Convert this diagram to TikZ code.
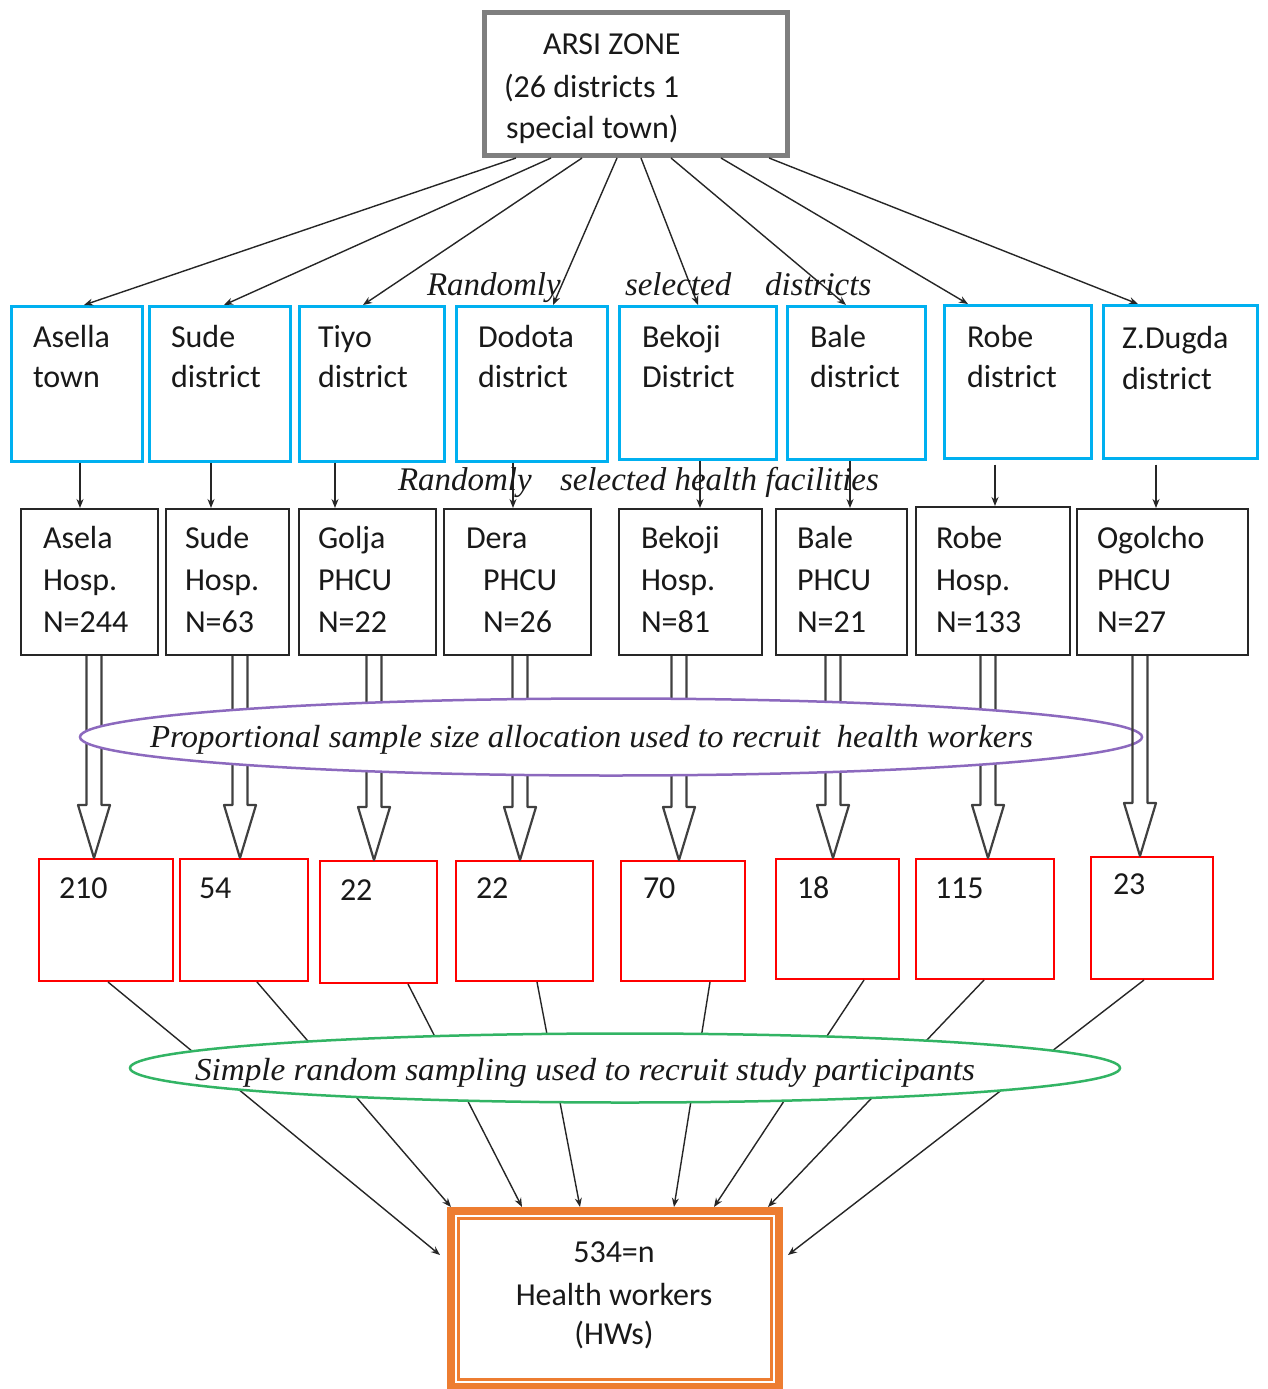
\documentclass[tikz,border=0pt]{standalone}
\usepackage{fontspec}
\usepackage{graphicx}
\setmainfont{Carlito}
\newfontfamily\lserif{Liberation Serif}
\usetikzlibrary{arrows.meta,shapes.geometric,calc}
\definecolor{cblue}{HTML}{00B0F0}
\definecolor{cred}{HTML}{FF0000}
\definecolor{cgray}{HTML}{7F7F7F}
\definecolor{cpurple}{RGB}{140,105,190}
\definecolor{cgreen}{RGB}{50,180,100}
\definecolor{corange}{HTML}{ED7D31}
\newcommand\calfont{\fontsize{32}{40}\selectfont}
\newcommand\itfont{\lserif\itshape\fontsize{33}{40}\selectfont}
\newcommand\tl[4]{\node[lab] (#1) at (#2,#3) {#4};}
\newcommand\il[4]{\node[ilab] (#1) at (#2,#3) {#4};}
\newcommand\holarrow[3]{%
  \coordinate (#1a) at (#1.south -| #2,0);
  \coordinate (#1b) at (#3.north -| #2,0);
  \draw[holl] ($(#1a)+(-7.5,0)$) -- ($(#1b)+(-7.5,-53)$) -- ($(#1b)+(-16,-53)$) -- (#1b)
     -- ($(#1b)+(16,-53)$) -- ($(#1b)+(7.5,-53)$) -- ($(#1a)+(7.5,0)$);}
\begin{document}
\begin{tikzpicture}[x=1pt,y=-1pt,
  lab/.style={anchor=base west, inner sep=0pt, outer sep=0pt, font=\calfont, text=black!90},
  ilab/.style={anchor=base west, inner sep=0pt, outer sep=0pt, font=\itfont, text=black!90},
  bluebox/.style={draw=cblue, line width=2.5pt, anchor=north west, inner sep=0pt},
  blackbox/.style={draw=black!85, line width=2pt, anchor=north west, inner sep=0pt},
  redbox/.style={draw=cred, line width=2pt, anchor=north west, inner sep=0pt},
  arr/.style={draw=black!85, line width=1.4pt, -{Stealth[length=9pt,width=7pt]}},
  holl/.style={draw=black!75, line width=2.2pt, fill=white, line join=round},
]
\useasboundingbox (0,0) rectangle (1267,1389);
\fill[white] (0,0) rectangle (1267,1389);

% top box
\node[draw=cgray, line width=5pt, anchor=north west, inner sep=0pt,
      minimum width=303pt, minimum height=143pt] (top) at (482,10) {};
\tl{ta}{543}{55}{ARSI ZONE}
\tl{tb}{504}{97}{(26 districts 1}
\tl{tc}{506}{138}{special town)}

% district boxes
\node[bluebox, minimum width=131pt, minimum height=155pt] (b1) at (10,305) {};
\node[bluebox, minimum width=141pt, minimum height=155pt] (b2) at (148,305) {};
\node[bluebox, minimum width=145pt, minimum height=155pt] (b3) at (298,305) {};
\node[bluebox, minimum width=151pt, minimum height=155pt] (b4) at (455,305) {};
\node[bluebox, minimum width=157pt, minimum height=153pt] (b5) at (618,305) {};
\node[bluebox, minimum width=138pt, minimum height=153pt] (b6) at (786,305) {};
\node[bluebox, minimum width=147pt, minimum height=153pt] (b7) at (943,304) {};
\node[bluebox, minimum width=154pt, minimum height=153pt] (b8) at (1102,304) {};

\tl{b1a}{33}{347}{Asella}\tl{b1b}{33}{387}{town}
\tl{b2a}{171}{347}{Sude}\tl{b2b}{171}{387}{district}
\tl{b3a}{318}{347}{Tiyo}\tl{b3b}{318}{387}{district}
\tl{b4a}{478}{347}{Dodota}\tl{b4b}{478}{387}{district}
\tl{b5a}{642}{347}{Bekoji}\tl{b5b}{642}{387}{District}
\tl{b6a}{810}{347}{Bale}\tl{b6b}{810}{387}{district}
\tl{b7a}{967}{347}{Robe}\tl{b7b}{967}{387}{district}
\tl{b8a}{1122}{348}{Z.Dugda}\tl{b8b}{1122}{389}{district}

% facility boxes
\node[blackbox, minimum width=137pt, minimum height=146pt] (h1) at (20,508) {};
\node[blackbox, minimum width=123pt, minimum height=146pt] (h2) at (165,508) {};
\node[blackbox, minimum width=137pt, minimum height=146pt] (h3) at (298,508) {};
\node[blackbox, minimum width=147pt, minimum height=146pt] (h4) at (443,508) {};
\node[blackbox, minimum width=143pt, minimum height=146pt] (h5) at (618,508) {};
\node[blackbox, minimum width=131pt, minimum height=146pt] (h6) at (775,508) {};
\node[blackbox, minimum width=154pt, minimum height=148pt] (h7) at (915,506) {};
\node[blackbox, minimum width=171pt, minimum height=146pt] (h8) at (1076,508) {};

\tl{h1a}{43}{548}{Asela}\tl{h1b}{43}{590}{Hosp.}\tl{h1c}{43}{632}{N=244}
\tl{h2a}{185}{548}{Sude}\tl{h2b}{185}{590}{Hosp.}\tl{h2c}{185}{632}{N=63}
\tl{h3a}{318}{548}{Golja}\tl{h3b}{318}{590}{PHCU}\tl{h3c}{318}{632}{N=22}
\tl{h4a}{466}{548}{Dera}\tl{h4b}{483}{590}{PHCU}\tl{h4c}{483}{632}{N=26}
\tl{h5a}{641}{548}{Bekoji}\tl{h5b}{641}{590}{Hosp.}\tl{h5c}{641}{632}{N=81}
\tl{h6a}{797}{548}{Bale}\tl{h6b}{797}{590}{PHCU}\tl{h6c}{797}{632}{N=21}
\tl{h7a}{936}{548}{Robe}\tl{h7b}{936}{590}{Hosp.}\tl{h7c}{936}{632}{N=133}
\tl{h8a}{1097}{548}{Ogolcho}\tl{h8b}{1097}{590}{PHCU}\tl{h8c}{1097}{632}{N=27}

% sample boxes
\node[redbox, minimum width=134pt, minimum height=122pt] (r1) at (38,858) {};
\node[redbox, minimum width=128pt, minimum height=122pt] (r2) at (179,858) {};
\node[redbox, minimum width=117pt, minimum height=122pt] (r3) at (319,860) {};
\node[redbox, minimum width=137pt, minimum height=120pt] (r4) at (455,860) {};
\node[redbox, minimum width=124pt, minimum height=120pt] (r5) at (620,860) {};
\node[redbox, minimum width=123pt, minimum height=120pt] (r6) at (775,858) {};
\node[redbox, minimum width=138pt, minimum height=120pt] (r7) at (915,858) {};
\node[redbox, minimum width=122pt, minimum height=122pt] (r8) at (1090,856) {};

\tl{r1a}{59}{898}{210}
\tl{r2a}{199}{898}{54}
\tl{r3a}{340}{900}{22}
\tl{r4a}{476}{898}{22}
\tl{r5a}{643}{898}{70}
\tl{r6a}{797}{898}{18}
\tl{r7a}{935}{898}{115}
\tl{r8a}{1113}{894}{23}

% final box
\node[draw=corange, line width=8pt, anchor=north west, inner sep=0pt,
      minimum width=328pt, minimum height=176pt] (hw) at (447,1207) {};
\draw[corange, line width=2.5pt] ($(hw.north west)+(11.5,11.5)$) rectangle ($(hw.south east)+(-11.5,-11.5)$);
\node[lab, anchor=base] (hwa) at (614,1262) {534=n};
\node[lab, anchor=base] (hwb) at (614,1305) {Health workers};
\node[lab, anchor=base] (hwc) at (614,1344) {(HWs)};

% arrows top -> districts
\draw[arr] (top.south -| 516,0) -- (b1.north -| 84,0);
\draw[arr] (top.south -| 551,0) -- (b2.north -| 224,0);
\draw[arr] (top.south -| 582,0) -- (b3.north -| 363,0);
\draw[arr] (top.south -| 617,0) -- (b4.north -| 553,0);
\draw[arr] (top.south -| 641,0) -- (b5.north -| 698,0);
\draw[arr] (top.south -| 671,0) -- (b6.north -| 846,0);
\draw[arr] (top.south -| 721,0) -- (b7.north -| 968,0);
\draw[arr] (top.south -| 769,0) -- (b8.north -| 1138,0);

% arrows districts -> facilities
\draw[arr] (b1.south -| 80,0) -- (h1.north -| 80,0);
\draw[arr] (b2.south -| 211,0) -- (h2.north -| 211,0);
\draw[arr] (b3.south -| 335,0) -- (h3.north -| 335,0);
\draw[arr] (b4.south -| 513,0) -- (h4.north -| 513,0);
\draw[arr] (b5.south -| 700,0) -- (h5.north -| 700,0);
\draw[arr] (b6.south -| 850,0) -- (h6.north -| 850,0);
\draw[arr] ([yshift=-5pt]b7.south -| 995,0) -- (h7.north -| 995,0);
\draw[arr] ([yshift=-5pt]b8.south -| 1156,0) -- (h8.north -| 1156,0);

% italic labels
\il{l1}{427}{295}{Randomly}
\il{l2}{625}{295}{selected}
\il{l3}{765}{295}{districts}
\il{l4}{398}{490}{Randomly}
\il{l5}{560}{490}{selected health facilities}

% hollow arrows
\holarrow{h1}{94}{r1}
\holarrow{h2}{240}{r2}
\holarrow{h3}{374}{r3}
\holarrow{h4}{520}{r4}
\holarrow{h5}{679}{r5}
\holarrow{h6}{833}{r6}
\holarrow{h7}{988}{r7}

\node[ellipse, draw=cpurple, line width=2.5pt, fill=white, inner sep=0pt,
      minimum width=1062pt, minimum height=77pt] (pe) at (611,737) {};
\node[ilab, font=\lserif\itshape\fontsize{32}{40}\selectfont] (pt) at (150,747)
  {\resizebox{883pt}{\height}{Proportional sample size allocation used to recruit~ health workers}};

\tikzset{holl/.append style={fill=none}}
\holarrow{h8}{1140}{r8}

% lines to final box
\draw[arr] (r1.south -| 108,0) -- ($(hw.west |- 0,1255)+(-7,0)$);
\draw[arr] (r2.south -| 257,0) -- (hw.north -| 451,0);
\draw[arr] (r3.south -| 408,0) -- (hw.north -| 522,0);
\draw[arr] (r4.south -| 537,0) -- (hw.north -| 580,0);
\draw[arr] (r5.south -| 710,0) -- (hw.north -| 674,0);
\draw[arr] (r6.south -| 864,0) -- (hw.north -| 714,0);
\draw[arr] (r7.south -| 984,0) -- (hw.north -| 768,0);
\draw[arr] (r8.south -| 1144,0) -- ($(hw.east |- 0,1255)+(5,0)$);

\node[ellipse, draw=cgreen, line width=2.5pt, fill=white, inner sep=0pt,
      minimum width=990pt, minimum height=69pt] (ge) at (625,1068) {};
\node[ilab, font=\lserif\itshape\fontsize{32}{40}\selectfont] (gt) at (195,1080)
  {\resizebox{780pt}{\height}{Simple random sampling used to recruit study participants}};
\end{tikzpicture}
\end{document}
